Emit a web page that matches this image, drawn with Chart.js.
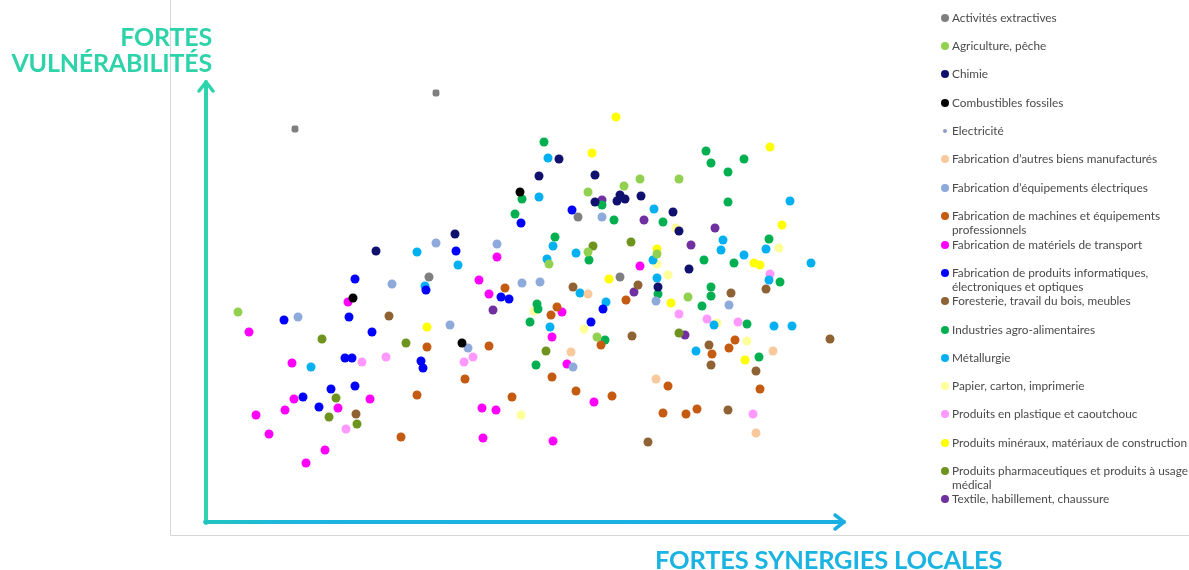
<!DOCTYPE html>
<html>
<head>
<meta charset="utf-8">
<script src="https://cdn.jsdelivr.net/npm/chart.js@4"></script>
<style>
  html, body { margin: 0; padding: 0; background: #fff; }
  #wrap { position: relative; width: 1189px; height: 570px; overflow: hidden; }
  canvas { position: absolute; left: 0; top: 0; }
  .ytitle { position: absolute; right: calc(1189px - 212px); top: 23px; text-align: right;
    font-family: Lato, sans-serif; font-weight: 700; font-size: 25px; line-height: 26px; color: #2ED3AA; letter-spacing: -0.2px; }
  .xtitle { position: absolute; left: 655px; top: 544px; font-family: Lato, sans-serif; font-weight: 700;
    font-size: 25.5px; line-height: 30px; color: #1BB3E2; letter-spacing: -0.2px; white-space: nowrap; }
  #legend { position: absolute; left: 937px; top: 0; width: 252px; font-family: Lato, sans-serif; font-size: 11.8px; color: #4a4a4a; }
  .li { position: absolute; left: 0; padding-left: 15px; line-height: 14px; white-space: nowrap; }
  .dot { position: absolute; left: 4px; top: 3px; width: 8px; height: 8px; border-radius: 50%; }
</style>
</head>
<body>
<div id="wrap">
  <canvas id="c" width="1189" height="570"></canvas>
  <div class="ytitle">FORTES<br>VULNÉRABILITÉS</div>
  <div class="xtitle">FORTES SYNERGIES LOCALES</div>
  <div id="legend"></div>
</div>
<script>
// Categories (legend order)
const categories = [
  "Activités extractives",
  "Agriculture, pêche",
  "Chimie",
  "Combustibles fossiles",
  "Electricité",
  "Fabrication d'autres biens manufacturés",
  "Fabrication d'équipements électriques",
  "Fabrication de machines et équipements professionnels",
  "Fabrication de matériels de transport",
  "Fabrication de produits informatiques, électroniques et optiques",
  "Foresterie, travail du bois, meubles",
  "Industries agro-alimentaires",
  "Métallurgie",
  "Papier, carton, imprimerie",
  "Produits en plastique et caoutchouc",
  "Produits minéraux, matériaux de construction",
  "Produits pharmaceutiques et produits à usage médical",
  "Textile, habillement, chaussure"
];

// [synergies locales, vulnérabilités] per sector
const extractives = [[23.0,42.9],[8.9,39.3],[22.3,24.5],[37.2,30.5],[41.4,24.5]];
const agriculture = [[3.2,21.0],[43.4,34.3],[41.8,33.6],[38.2,33.0],[47.3,34.3],[38.2,27.0],[34.3,25.8],[45.1,26.8],[48.2,22.5],[39.1,18.5]];
const chimie = [[24.9,28.8],[17.0,27.1],[35.3,36.3],[33.3,34.6],[38.9,34.7],[38.9,32.0],[41.1,32.1],[41.4,32.7],[41.9,32.3],[43.5,32.6],[46.7,31.0],[47.3,29.1],[48.3,25.3],[45.2,23.5]];
const combustibles = [[31.4,33.0],[14.7,22.4],[25.6,17.9]];
const electricite = [];
const autresBiens = [[38.2,22.8],[36.5,17.0],[45.0,14.3],[56.7,17.1],[55.0,8.9]];
const equipElec = [[23.0,27.9],[29.1,27.8],[18.6,23.8],[31.6,23.9],[33.4,24.0],[9.2,20.5],[24.4,19.7],[26.2,17.4],[39.6,30.5],[45.0,22.1],[52.3,21.7],[36.7,15.5]];
const machines = [[29.9,23.4],[22.1,17.5],[28.3,17.6],[25.9,14.3],[21.1,12.7],[30.6,12.5],[19.5,8.5],[35.1,21.5],[34.5,20.7],[39.5,17.7],[34.6,14.5],[37.0,13.1],[40.6,12.6],[42.0,22.2],[52.9,18.2],[52.3,17.4],[50.6,16.8],[55.4,13.3],[46.2,13.6],[45.7,10.9],[48.0,10.8],[49.1,11.3]];
const transport = [[29.1,26.5],[27.3,24.2],[28.3,22.8],[14.2,22.0],[4.3,19.0],[8.6,15.9],[8.8,12.3],[16.4,12.3],[5.0,10.7],[7.9,11.2],[13.2,11.4],[27.6,11.4],[29.0,11.2],[6.3,8.8],[27.7,8.4],[11.9,7.2],[10.0,5.9],[35.6,21.0],[34.6,18.5],[36.1,15.8],[38.8,12.0],[34.7,8.1],[43.4,25.6]];
const informatique = [[31.5,29.9],[25.0,27.1],[14.9,24.3],[22.0,23.2],[29.5,22.5],[30.3,22.3],[7.8,20.2],[14.3,20.5],[16.6,19.0],[13.9,16.4],[14.6,16.4],[21.5,16.1],[21.7,15.4],[12.5,13.3],[9.7,12.5],[14.9,13.6],[11.3,11.5],[36.6,31.2],[38.5,20.0],[39.7,21.3]];
const foresterie = [[18.3,20.6],[15.0,10.8],[36.7,23.5],[43.2,23.7],[42.6,18.6],[44.2,8.0],[52.5,22.9],[56.0,23.3],[62.4,18.3],[50.3,17.7],[50.5,15.7],[55.0,15.1],[52.2,11.2]];
const agro = [[30.9,30.8],[33.1,21.8],[33.2,21.3],[32.4,20.0],[33.0,15.7],[33.8,38.0],[31.6,32.3],[40.8,30.2],[34.9,28.5],[38.3,26.2],[39.6,31.7],[45.2,22.8],[39.9,18.2],[50.0,37.1],[50.5,35.9],[53.8,36.3],[52.2,35.0],[52.2,32.0],[45.7,30.0],[56.3,28.3],[49.8,26.2],[52.8,25.9],[57.4,24.0],[50.5,23.5],[50.5,22.6],[49.6,21.6],[54.1,19.8],[55.3,16.5]];
const metallurgie = [[21.1,27.0],[25.2,25.7],[21.9,23.6],[10.5,15.5],[34.2,36.4],[33.3,32.5],[44.8,31.3],[34.7,27.6],[37.0,26.9],[34.1,26.3],[44.7,26.2],[45.1,24.4],[37.4,22.9],[40.0,22.0],[34.4,19.5],[58.4,32.1],[51.7,28.2],[51.5,27.2],[56.0,27.3],[53.8,26.7],[60.5,25.9],[56.3,24.2],[50.8,19.7],[56.8,19.6],[58.6,19.6],[49.0,17.1]];
const papier = [[32.8,21.1],[31.5,10.7],[45.1,25.8],[47.0,29.4],[57.3,27.4],[46.2,24.7],[37.8,19.3],[51.1,19.9],[54.1,18.1]];
const plastique = [[15.6,16.0],[18.0,16.5],[25.8,16.0],[26.7,16.5],[14.0,9.3],[56.4,24.8],[47.3,20.8],[50.1,20.3],[53.2,20.0],[54.7,10.8]];
const mineraux = [[22.1,19.5],[41.0,40.5],[38.6,36.9],[45.1,27.3],[40.3,24.3],[56.4,37.5],[57.6,29.7],[54.8,25.9],[55.4,25.7],[46.5,21.9],[53.9,16.2]];
const pharma = [[11.6,18.3],[20.0,17.9],[34.0,17.1],[13.0,12.4],[12.3,10.5],[15.1,9.8],[38.7,27.6],[42.5,28.0],[47.3,18.9]];
const textile = [[28.7,21.2],[39.6,32.2],[43.8,30.2],[42.8,23.0],[50.9,29.4],[48.5,27.7],[47.9,18.7]];

const seriesData = [extractives, agriculture, chimie, combustibles, electricite, autresBiens, equipElec, machines,
  transport, informatique, foresterie, agro, metallurgie, papier, plastique, mineraux, pharma, textile];

const colors = ['#7f7f7f','#92d050','#10106e','#000000','#8e9ac8','#f8c99c','#8eaadb','#c55a11','#ff00ff','#0000ff',
  '#8f6233','#00b050','#00b0f0','#ffff99','#ff99ff','#ffff00','#6e931e','#7030a0'];

// legend rows: top (px) of each entry
const legendTops = [11, 39, 67, 96, 124, 152, 181, 209, 238, 266, 294, 323, 351, 379, 407, 436, 464, 492];
const legendLabels = [
  "Activités extractives","Agriculture, pêche","Chimie","Combustibles fossiles","Electricité",
  "Fabrication d’autres biens manufacturés","Fabrication d’équipements électriques",
  "Fabrication de machines et équipements<br>professionnels","Fabrication de matériels de transport",
  "Fabrication de produits informatiques,<br>électroniques et optiques","Foresterie, travail du bois, meubles",
  "Industries agro-alimentaires","Métallurgie","Papier, carton, imprimerie","Produits en plastique et caoutchouc",
  "Produits minéraux, matériaux de construction","Produits pharmaceutiques et produits à usage<br>médical",
  "Textile, habillement, chaussure"];

const lg = document.getElementById('legend');
legendLabels.forEach((t, i) => {
  const d = document.createElement('div');
  d.className = 'li';
  d.style.top = legendTops[i] + 'px';
  const small = i === 4;
  d.innerHTML = '<span class="dot" style="background:' + colors[i] + ';' +
    (small ? 'width:4px;height:4px;left:6px;top:5px;' : '') + '"></span>' + t;
  lg.appendChild(d);
});

const axesPlugin = {
  id: 'arrows',
  beforeDatasetsDraw(chart) {
    const ctx = chart.ctx;
    const a = chart.chartArea;
    ctx.save();
    // faint frame
    ctx.strokeStyle = '#d6d6d6';
    ctx.lineWidth = 1;
    ctx.beginPath();
    ctx.moveTo(170.5, 0); ctx.lineTo(170.5, 535.5); ctx.lineTo(1189, 535.5);
    ctx.stroke();
    ctx.lineCap = 'round';
    ctx.lineJoin = 'round';
    // y arrow
    ctx.strokeStyle = '#2dd4ae';
    ctx.lineWidth = 4;
    ctx.beginPath();
    ctx.moveTo(a.left, a.bottom + 1); ctx.lineTo(a.left, a.top + 2);
    ctx.stroke();
    ctx.lineWidth = 3.5;
    ctx.beginPath();
    ctx.moveTo(a.left - 7, a.top + 11); ctx.lineTo(a.left, a.top + 2); ctx.lineTo(a.left + 7, a.top + 11);
    ctx.stroke();
    // x arrow
    const g = ctx.createLinearGradient(a.left, 0, a.right, 0);
    g.addColorStop(0, '#22c4c0');
    g.addColorStop(0.15, '#1db4e0');
    g.addColorStop(1, '#1aaee2');
    ctx.strokeStyle = g;
    ctx.lineWidth = 4;
    ctx.beginPath();
    ctx.moveTo(a.left - 1, a.bottom); ctx.lineTo(a.right - 2, a.bottom);
    ctx.stroke();
    ctx.lineWidth = 3.5;
    ctx.beginPath();
    ctx.moveTo(a.right - 11, a.bottom - 7); ctx.lineTo(a.right - 2, a.bottom); ctx.lineTo(a.right - 11, a.bottom + 7);
    ctx.stroke();
    ctx.restore();
  }
};

const datasets = seriesData.map((arr, i) => ({
  label: categories[i],
  data: arr.map(p => ({ x: p[0], y: p[1] })),
  backgroundColor: colors[i],
  borderWidth: 0,
  pointRadius: i === 0 ? arr.map((p, k) => k < 2 ? 4 : 4.5) : (i === 4 ? 2.5 : 4.5),
  pointStyle: i === 0 ? arr.map((p, k) => k < 2 ? 'rectRounded' : 'circle') : 'circle',
  pointHoverRadius: 5
}));

new Chart(document.getElementById('c'), {
  type: 'scatter',
  data: { datasets },
  options: {
    responsive: false,
    animation: false,
    devicePixelRatio: 1,
    layout: { padding: { left: 206, right: 343, top: 80, bottom: 48 } },
    plugins: { legend: { display: false }, tooltip: { enabled: true } },
    scales: {
      x: { type: 'linear', min: 0, max: 64, display: false },
      y: { type: 'linear', min: 0, max: 44.2, display: false }
    }
  },
  plugins: [axesPlugin]
});
</script>
</body>
</html>
